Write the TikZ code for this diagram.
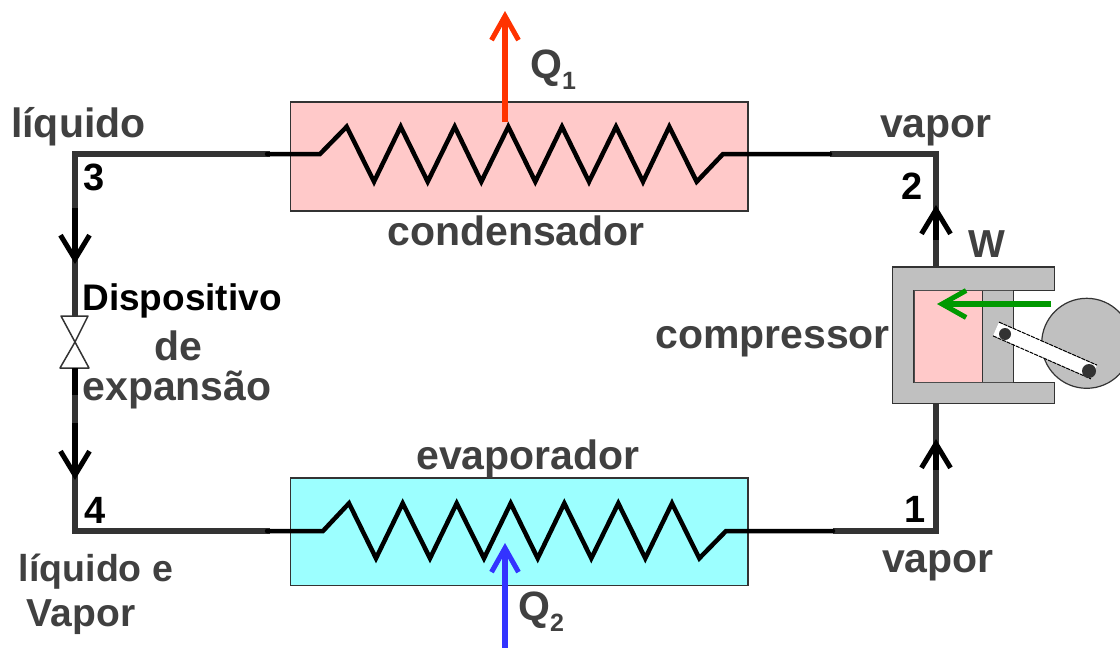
\documentclass[tikz,border=0pt]{standalone}
\usepackage{fontspec}
\setmainfont{Liberation Sans}
\usetikzlibrary{arrows.meta}
\definecolor{txtgray}{HTML}{404040}
\definecolor{pipegray}{HTML}{333333}
\definecolor{pinkbox}{HTML}{FFC9C9}
\definecolor{cyanbox}{HTML}{9CFFFF}
\definecolor{partgray}{HTML}{C0C0C0}
\definecolor{greenarrow}{HTML}{009900}
\definecolor{redarrow}{HTML}{FF3300}
\definecolor{bluearrow}{HTML}{3333FF}
\tikzset{
  lbl/.style={font=\fontsize{41}{44}\selectfont\bfseries, text=txtgray, inner sep=0pt, align=center, anchor=base},
  numlbl/.style={font=\fontsize{38}{40}\selectfont\bfseries, text=black, inner sep=0pt, anchor=base},
  pipe/.style={draw=pipegray, line width=5.5pt},
  coil/.style={draw=black, line width=4.5pt, line join=miter, line cap=round},
  flow/.style={draw=black, line width=6pt, -{Straight Barb[length=24pt,width=29pt,line width=5pt]}},
  heat/.style={line width=6.5pt, -{Straight Barb[length=24pt,width=27pt,line width=5pt]}},
  exch/.style={draw=pipegray, line width=1.6pt},
  part/.style={draw=pipegray, line width=1.3pt, fill=partgray}
}
\begin{document}
\begin{tikzpicture}[x=1pt,y=-1pt]
\useasboundingbox (0,0) rectangle (1120,648);
\fill[white] (0,0) rectangle (1120,648);

% corner points and pipe ends
\coordinate (c3) at (75,154);
\coordinate (c2) at (936,154);
\coordinate (c4) at (75,531);
\coordinate (c1) at (936,531);
\coordinate (ctl) at (267,154);
\coordinate (cil) at (320,154);
\coordinate (cir) at (723,154);
\coordinate (ctr) at (830,154);
\coordinate (etl) at (267,531);
\coordinate (eil) at (323,531);
\coordinate (eir) at (726,531);
\coordinate (etr) at (833,531);

% exchangers
\node[exch, fill=pinkbox, minimum width=457.5pt, minimum height=109pt, inner sep=0pt, anchor=north west] (cond) at (289.5,101) {};
\node[exch, fill=cyanbox, minimum width=457.5pt, minimum height=107.5pt, inner sep=0pt, anchor=north west] (evap) at (289.5,477.3) {};

% valve
\coordinate (vt) at (75,316);
\coordinate (vb) at (75,368);

% compressor body
\path[part] (1054.3,267) -- (892.3,267) -- (892.3,403.3) -- (1054.3,403.3) -- (1054.3,382.3) -- (914,382.3) -- (914,290.3) -- (1054.3,290.3) -- cycle;
\coordinate (comptop) at (936,267);
\coordinate (compbot) at (936,403.3);
\fill[pinkbox] (914.7,291) rectangle (982.3,381.6);
\draw[draw=pipegray, line width=1.3pt, fill=partgray] (982.3,290.3) rectangle (1013.3,382.3);
\draw[draw=black!70, line width=1pt] (914,290.3) -- (1013.3,290.3) (914,382.3) -- (1013.3,382.3) (914,290.3) -- (914,382.3);
\node[circle, draw=pipegray, line width=1.2pt, fill=partgray, minimum size=90pt, inner sep=0pt] (wheel) at (1086.7,343.3) {};
\coordinate (rodA) at (996,329);
\coordinate (rodB) at (1094,372);
\coordinate (rodA1) at (993,335.9);
\coordinate (rodB1) at (1091,378.9);
\coordinate (rodA2) at (999,322.1);
\coordinate (rodB2) at (1097,365.1);
\draw[line width=14pt, white] (rodA) -- (rodB);
\draw[black, line width=1pt, dash pattern=on 4pt off 1pt] (rodA1) -- (rodB1);
\draw[black, line width=1pt, dash pattern=on 4pt off 1pt] (rodA2) -- (rodB2);
\fill[pipegray] (1005,334) circle (6pt) (1089,371) circle (7pt);

% pipes
\draw[pipe, line cap=rect] (ctl) -- (c3) -- (vt);
\draw[pipe, line cap=rect] (vb) -- (c4) -- (etl);
\draw[pipe] (ctr) -- (c2) -- (comptop);
\draw[pipe] (etr) -- (c1) -- (compbot);

% valve shape
\draw[line width=1.5pt, draw=pipegray, fill=white, line join=round] (61,316) -- (88,316) -- (75,342) -- (89,368) -- (60,368) -- (75,342) -- cycle;

% coils
\draw[coil] (ctl) -- (cil) -- (346.7,126.7) -- (374,181.7) -- (400.7,126.7) -- (427.7,181.7) -- (454.7,126.7) -- (481.3,181.7) -- (508.3,126.7) -- (535.3,181.7) -- (562,126.7) -- (589,181.7) -- (616,126.7) -- (643,181.7) -- (669.3,126.7) -- (696.7,181.7) -- (cir) -- (ctr);
\draw[coil] (etl) -- (eil) -- (349,503.3) -- (376,558.3) -- (402.7,503.3) -- (430,558.3) -- (456.7,503.3) -- (484,558.3) -- (510.7,503.3) -- (537.7,558.3) -- (564.3,503.3) -- (591.3,558.3) -- (618.3,503.3) -- (645.3,558.3) -- (672,503.3) -- (699.3,558.3) -- (eir) -- (etr);

% flow arrows on pipe
\coordinate (f3a) at (75,208);
\coordinate (f3b) at (75,264);
\coordinate (f4a) at (75,423);
\coordinate (f4b) at (75,480);
\coordinate (f2a) at (936,240);
\coordinate (f2b) at (936,205);
\coordinate (f1a) at (936,470);
\coordinate (f1b) at (936,439);
\draw[flow] (f3a) -- (f3b);
\draw[line width=5.5pt] (vb) -- (75,395);
\draw[flow] (f4a) -- (f4b);
\draw[flow] (f2a) -- (f2b);
\draw[flow] (f1a) -- (f1b);

% heat and work arrows
\coordinate (q1a) at (505,122);
\coordinate (q1b) at (505,11);
\coordinate (q2a) at (505,648);
\coordinate (q2b) at (505,543);
\coordinate (wa) at (1051,304);
\coordinate (wb) at (937,304);
\draw[heat, draw=redarrow] (q1a) -- (q1b);
\draw[heat, draw=bluearrow] (q2a) -- (q2b);
\draw[heat, draw=greenarrow] (wa) -- (wb);

% labels
\node[lbl, anchor=base west] (tliq) at (11,137) {líquido};
\node[lbl] (tvap2) at (936,137) {vapor};
\node[lbl] (tcond) at (516,245) {condensador};
\node[lbl] (tevap) at (528,469) {evaporador};
\node[lbl] (tvap1) at (938,572) {vapor};
\node[lbl, anchor=base west] (tcomp) at (655,348) {compressor};
\node[lbl, font=\fontsize{39}{42}\selectfont\bfseries] (tw) at (987,257) {W};
\node[lbl, anchor=base west] (tq1) at (530,78) {Q\raisebox{-11pt}{\fontsize{25}{27}\selectfont 1}};
\node[lbl, anchor=base west] (tq2) at (518,620) {Q\raisebox{-11pt}{\fontsize{25}{27}\selectfont 2}};
\node[lbl, text=black, font=\fontsize{37}{40}\selectfont\bfseries] (tdisp) at (182,310) {Dispositivo};
\node[lbl] (tde) at (178,360) {de};
\node[lbl] (texp) at (177,400) {expansão};
\node[lbl, font=\fontsize{37.5}{40}\selectfont\bfseries] (tliqe) at (96,581) {líquido e};
\node[lbl, font=\fontsize{39}{42}\selectfont\bfseries] (tvapor) at (81,626) {Vapor};
\node[numlbl] (n3) at (94,190) {3};
\node[numlbl] (n2) at (912,199) {2};
\node[numlbl] (n4) at (95,523) {4};
\node[numlbl] (n1) at (915,522) {1};
\end{tikzpicture}
\end{document}
